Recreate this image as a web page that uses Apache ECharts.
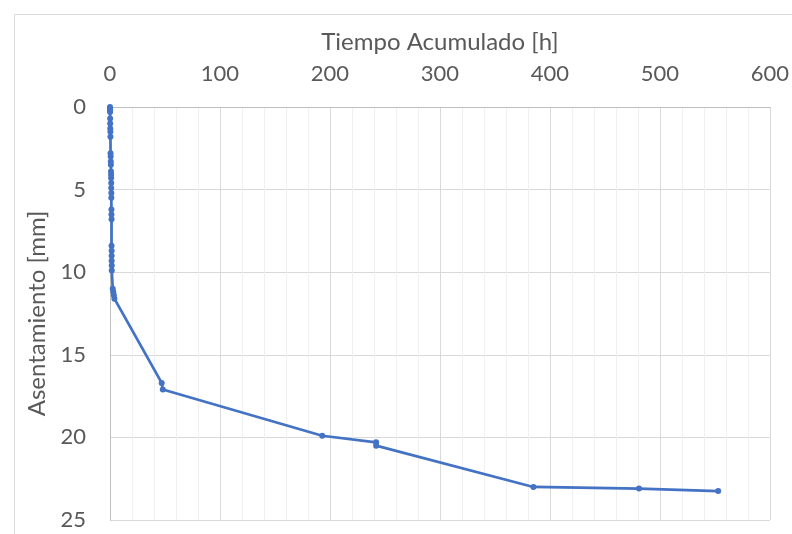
<!DOCTYPE html>
<html><head><meta charset="utf-8">
<script src="https://cdn.jsdelivr.net/npm/echarts@6/dist/echarts.min.js"></script>
<style>html,body{margin:0;padding:0;background:#fff}#c{width:792px;height:534px}</style>
</head><body><div id="c"></div>
<script>
var tiempo = [0,0.02,0.05,0.08,0.12,0.17,0.25,0.33,0.4,0.5,0.6,0.7,0.8,0.9,1.0,1.0,1.1,1.1,1.2,1.2,1.3,1.3,1.4,1.4,1.5,1.5,1.5,1.6,1.6,2.5,3.0,3.5,4.0,47,48,193,242,242,385,481,553];
var asentamiento = [0,0.1,0.2,0.3,0.7,1.0,1.3,1.5,1.8,2.8,3.0,3.3,3.5,3.9,4.1,4.3,4.6,4.9,5.2,5.5,6.2,6.5,6.8,8.4,8.7,9.0,9.3,9.6,9.9,11.0,11.2,11.4,11.6,16.7,17.1,19.9,20.3,20.5,23.0,23.1,23.25];
var xTicks = [0,100,200,300,400,500,600];
var yTicks = [0,5,10,15,20,25];
var data = tiempo.map(function(t,i){return [t, asentamiento[i]];});
var chart = echarts.init(document.getElementById('c'));
var font = 'Lato, "Open Sans", sans-serif';
chart.setOption({
  animation:false,
  graphic:[{type:'rect',left:12,top:12,shape:{width:900,height:700},style:{fill:'none',stroke:'#d9d9d9',lineWidth:1},silent:true}],
  grid:{left:110,top:107,width:665,height:413},
  xAxis:{type:'value',position:'top',min:xTicks[0],max:xTicks[xTicks.length-1],interval:100,
    name:'Tiempo Acumulado [h]',nameLocation:'middle',nameGap:53,
    nameTextStyle:{fontFamily:font,fontSize:24,color:'#595959'},
    axisLine:{show:true,lineStyle:{color:'#bfbfbf'}},axisTick:{show:false},
    axisLabel:{fontFamily:font,fontSize:22,color:'#595959',margin:22},
    splitLine:{show:true,lineStyle:{color:'#d9d9d9',width:1}},
    minorTick:{show:false,splitNumber:5},
    minorSplitLine:{show:true,lineStyle:{color:'#f0f0f0',width:1}}},
  yAxis:{type:'value',inverse:true,min:yTicks[0],max:yTicks[yTicks.length-1],interval:5,
    name:'Asentamiento [mm]',nameLocation:'middle',nameGap:56,nameRotate:90,
    nameTextStyle:{fontFamily:font,fontSize:24,color:'#595959'},
    axisLine:{show:true,lineStyle:{color:'#bfbfbf'}},axisTick:{show:false},
    axisLabel:{fontFamily:font,fontSize:22,color:'#595959',margin:24},
    splitLine:{show:true,lineStyle:{color:'#d9d9d9',width:1}}},
  series:[{type:'line',data:data,symbol:'circle',symbolSize:6,
    lineStyle:{color:'#4472C4',width:2.75},itemStyle:{color:'#4472C4'}}]
});
</script></body></html>
